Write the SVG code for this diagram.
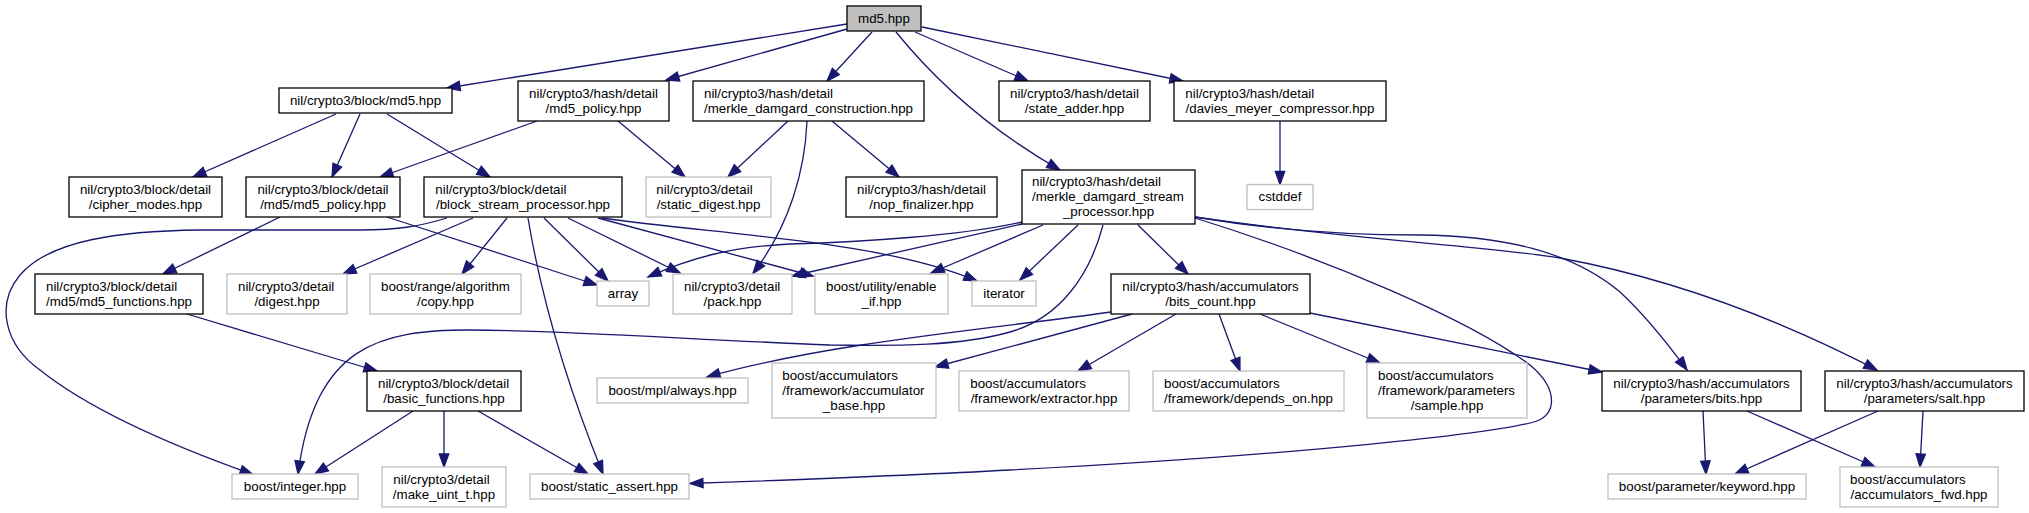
<svg xmlns="http://www.w3.org/2000/svg" width="2029" height="513" viewBox="0 0 2029 513">
<style>
.n rect{fill:#fff;stroke:#000;stroke-width:1.3}
.g rect{fill:#fff;stroke:#bfbfbf;stroke-width:1.3}
#root rect{fill:#bfbfbf;stroke:#000;stroke-width:1.3}
text{font-family:"Liberation Sans",Arial,Helvetica,sans-serif;font-size:13.33px;fill:#000}
.c{text-anchor:middle}
.e path{fill:none;stroke:#191970;stroke-width:1.3;marker-end:url(#ah)}
</style>
<defs>
<marker id="ah" markerUnits="userSpaceOnUse" markerWidth="16" markerHeight="12" refX="13" refY="5" orient="auto" overflow="visible">
<path d="M0,0.3 L13,5 L0,9.7 z" fill="#191970" stroke="#191970" stroke-width="1.3"/>
</marker>
</defs>
<rect width="2029" height="513" fill="#fff"/>
<g class="e" id="edges">
<path d="M847,24 L447,88"/>
<path d="M847,29 L666,80"/>
<path d="M872,32 L827,81"/>
<path d="M896,32 C935,80 990,130 1060,170"/>
<path d="M915,32 L1028,81"/>
<path d="M922,27 L1183,81"/>
<path d="M336,114 L193,177"/>
<path d="M360,114 L332,177"/>
<path d="M387,114 L490,177"/>
<path d="M537,121 L380,177"/>
<path d="M618,121 L685,177"/>
<path d="M788,121 L728,177"/>
<path d="M807,121 C805,170 790,225 753,273.5"/>
<path d="M832,121 L899,177"/>
<path d="M1280,121 L1280,184.5"/>
<path d="M280,217 L163,274"/>
<path d="M387,217 L597,285"/>
<path d="M447,218 C420,226 400,230 360,230 L200,230 C120,231 50,240 20,275 C-5,305 5,345 40,370 C90,410 170,445 253,474.5"/>
<path d="M473,218 L343,274"/>
<path d="M507,218 L462,274"/>
<path d="M544,218 L608,281"/>
<path d="M568,218 L680,273"/>
<path d="M598,218 L813,276"/>
<path d="M602,218 C720,235 880,240 977,281"/>
<path d="M528,218 C540,290 565,380 603,474"/>
<path d="M1022,222 C960,236 860,242 790,244 C730,247 690,258 648,277"/>
<path d="M1022,224 L792,276"/>
<path d="M1043,225 L931,273"/>
<path d="M1078,225 L1020,280"/>
<path d="M1138,225 L1188,274"/>
<path d="M1103,225 C1090,275 1060,318 1010,332 C960,346 900,346 830,345 C700,340 560,330 470,330 C380,330 315,345 298,474"/>
<path d="M1195,218 C1330,260 1470,320 1530,365 C1560,390 1555,415 1537,421 C1500,433 1300,455 1010,470 C900,476 760,481 690,483.5"/>
<path d="M1195,217 C1260,228 1330,235 1420,235 C1500,236 1570,250 1620,292 C1645,315 1665,340 1687,370"/>
<path d="M1195,217 C1350,240 1480,245 1560,258 C1680,280 1790,325 1877,370"/>
<path d="M187,314 L377,371"/>
<path d="M413,411 L315,474"/>
<path d="M444,411 L444,467"/>
<path d="M478,411 L588,474"/>
<path d="M1111,312 C1000,328 830,342 707,377"/>
<path d="M1132,314 L935,367"/>
<path d="M1176,314 L1078,371"/>
<path d="M1219,314 L1240,371"/>
<path d="M1260,314 L1380,363"/>
<path d="M1310,313 L1602,372"/>
<path d="M1703,411 L1706,474"/>
<path d="M1747,411 L1875,467"/>
<path d="M1878,411 L1735,474"/>
<path d="M1923,411 L1920,467"/>
</g>
<g id="root"><rect x="847" y="6" width="74" height="25"/><text class="c" x="884" y="22.5">md5.hpp</text></g>
<g id="n1" class="n"><rect x="279" y="88" width="173" height="25"/><text class="c" x="365.5" y="104.5">nil/crypto3/block/md5.hpp</text></g>
<g id="n2" class="n"><rect x="518" y="81" width="151" height="40"/><text class="c" x="593.5" y="97.5">nil/crypto3/hash/detail</text><text class="c" x="593.5" y="112.5">/md5_policy.hpp</text></g>
<g id="n3" class="n"><rect x="693" y="81" width="231" height="40"/><text x="704" y="97.5">nil/crypto3/hash/detail</text><text class="c" x="808.5" y="112.5">/merkle_damgard_construction.hpp</text></g>
<g id="n4" class="n"><rect x="999" y="81" width="151" height="40"/><text class="c" x="1074.5" y="97.5">nil/crypto3/hash/detail</text><text class="c" x="1074.5" y="112.5">/state_adder.hpp</text></g>
<g id="n5" class="n"><rect x="1174" y="81" width="212" height="40"/><text x="1185.3" y="97.5">nil/crypto3/hash/detail</text><text class="c" x="1280" y="112.5">/davies_meyer_compressor.hpp</text></g>
<g id="n6" class="n"><rect x="69" y="177" width="153" height="40"/><text class="c" x="145.5" y="193.5">nil/crypto3/block/detail</text><text class="c" x="145.5" y="208.5">/cipher_modes.hpp</text></g>
<g id="n7" class="n"><rect x="246" y="177" width="154" height="40"/><text class="c" x="323" y="193.5">nil/crypto3/block/detail</text><text class="c" x="323" y="208.5">/md5/md5_policy.hpp</text></g>
<g id="n8" class="n"><rect x="424" y="177" width="198" height="40"/><text x="435.3" y="193.5">nil/crypto3/block/detail</text><text class="c" x="523" y="208.5">/block_stream_processor.hpp</text></g>
<g id="n9" class="g"><rect x="646" y="177" width="125" height="40"/><text x="656.3" y="193.5">nil/crypto3/detail</text><text class="c" x="708.5" y="208.5">/static_digest.hpp</text></g>
<g id="n10" class="n"><rect x="846" y="177" width="151" height="40"/><text class="c" x="921.5" y="193.5">nil/crypto3/hash/detail</text><text class="c" x="921.5" y="208.5">/nop_finalizer.hpp</text></g>
<g id="n11" class="n"><rect x="1022" y="170" width="173" height="54"/><text x="1032" y="186">nil/crypto3/hash/detail</text><text x="1032" y="201">/merkle_damgard_stream</text><text class="c" x="1108.5" y="216">_processor.hpp</text></g>
<g id="n12" class="g"><rect x="1247" y="184.5" width="66" height="25"/><text class="c" x="1280" y="201">cstddef</text></g>
<g id="n13" class="n"><rect x="35" y="274" width="168" height="40"/><text x="46" y="290.5">nil/crypto3/block/detail</text><text class="c" x="119" y="305.5">/md5/md5_functions.hpp</text></g>
<g id="n14" class="g"><rect x="227" y="274" width="120" height="40"/><text x="238" y="290.5">nil/crypto3/detail</text><text class="c" x="287" y="305.5">/digest.hpp</text></g>
<g id="n15" class="g"><rect x="370" y="274" width="151" height="40"/><text class="c" x="445.5" y="290.5">boost/range/algorithm</text><text class="c" x="445.5" y="305.5">/copy.hpp</text></g>
<g id="n16" class="g"><rect x="597" y="281" width="52" height="25"/><text class="c" x="623" y="297.5">array</text></g>
<g id="n17" class="g"><rect x="673" y="274" width="119" height="40"/><text x="684" y="290.5">nil/crypto3/detail</text><text class="c" x="732.5" y="305.5">/pack.hpp</text></g>
<g id="n18" class="g"><rect x="815" y="274" width="133" height="40"/><text x="826" y="290.5">boost/utility/enable</text><text class="c" x="881.5" y="305.5">_if.hpp</text></g>
<g id="n19" class="g"><rect x="972" y="281" width="64" height="25"/><text class="c" x="1004" y="297.5">iterator</text></g>
<g id="n20" class="n"><rect x="1111" y="274" width="199" height="40"/><text class="c" x="1210.5" y="290.5">nil/crypto3/hash/accumulators</text><text class="c" x="1210.5" y="305.5">/bits_count.hpp</text></g>
<g id="n21" class="n"><rect x="367" y="371" width="154" height="40"/><text x="378" y="387.5">nil/crypto3/block/detail</text><text class="c" x="444" y="402.5">/basic_functions.hpp</text></g>
<g id="n22" class="g"><rect x="597" y="378" width="151" height="25"/><text class="c" x="672.5" y="394.5">boost/mpl/always.hpp</text></g>
<g id="n23" class="g"><rect x="772" y="363" width="164" height="55"/><text x="782.3" y="379.5">boost/accumulators</text><text x="782.3" y="394.5">/framework/accumulator</text><text class="c" x="854" y="409.5">_base.hpp</text></g>
<g id="n24" class="g"><rect x="959" y="371" width="170" height="40"/><text x="970.3" y="387.5">boost/accumulators</text><text class="c" x="1044" y="402.5">/framework/extractor.hpp</text></g>
<g id="n25" class="g"><rect x="1153" y="371" width="191" height="40"/><text x="1164" y="387.5">boost/accumulators</text><text class="c" x="1248.5" y="402.5">/framework/depends_on.hpp</text></g>
<g id="n26" class="g"><rect x="1367" y="363" width="160" height="55"/><text x="1378" y="379.5">boost/accumulators</text><text x="1378" y="394.5">/framework/parameters</text><text class="c" x="1447" y="409.5">/sample.hpp</text></g>
<g id="n27" class="n"><rect x="1602" y="371" width="199" height="40"/><text class="c" x="1701.5" y="387.5">nil/crypto3/hash/accumulators</text><text class="c" x="1701.5" y="402.5">/parameters/bits.hpp</text></g>
<g id="n28" class="n"><rect x="1825" y="371" width="199" height="40"/><text class="c" x="1924.5" y="387.5">nil/crypto3/hash/accumulators</text><text class="c" x="1924.5" y="402.5">/parameters/salt.hpp</text></g>
<g id="n29" class="g"><rect x="232" y="474" width="126" height="25"/><text class="c" x="295" y="491">boost/integer.hpp</text></g>
<g id="n30" class="g"><rect x="382" y="467" width="124" height="40"/><text x="393.3" y="483.5">nil/crypto3/detail</text><text class="c" x="444" y="498.5">/make_uint_t.hpp</text></g>
<g id="n31" class="g"><rect x="530" y="474" width="159" height="25"/><text class="c" x="609.5" y="491">boost/static_assert.hpp</text></g>
<g id="n32" class="g"><rect x="1608" y="474" width="198" height="25"/><text class="c" x="1707" y="491">boost/parameter/keyword.hpp</text></g>
<g id="n33" class="g"><rect x="1840" y="467" width="158" height="40"/><text x="1850" y="483.5">boost/accumulators</text><text class="c" x="1919" y="498.5">/accumulators_fwd.hpp</text></g>
</svg>
